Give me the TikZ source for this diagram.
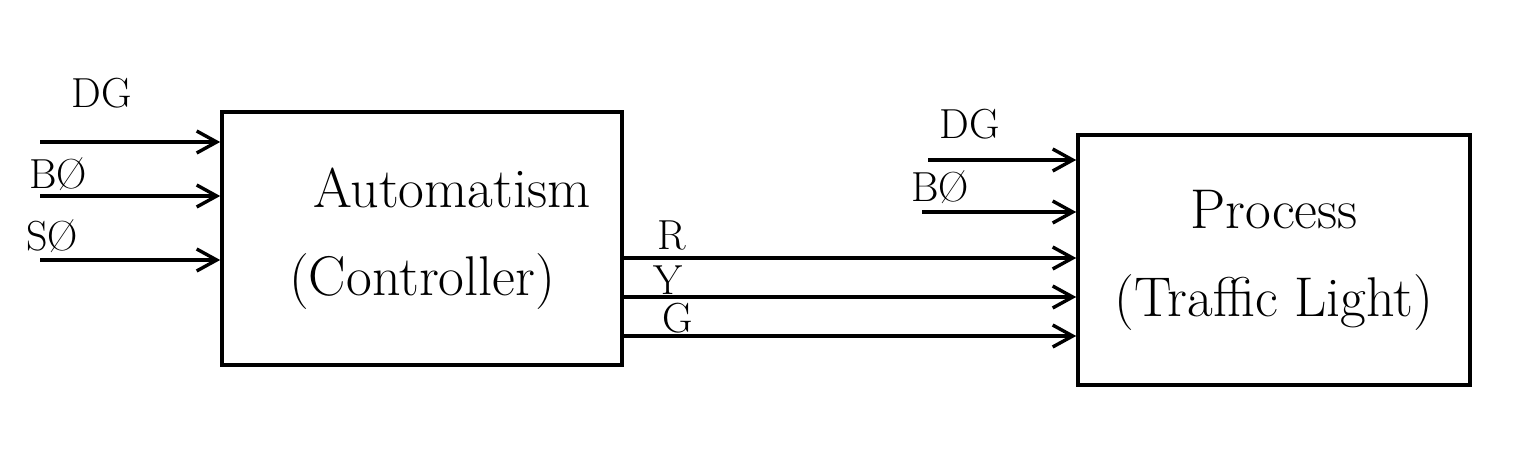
\documentclass[tikz,border=0pt]{standalone}
\usepackage{fontspec}
\usetikzlibrary{arrows.meta}
\begin{document}
\begin{tikzpicture}[x=0.5pt,y=-0.5pt,
  box/.style={draw, line width=1.8pt, align=center, inner sep=0pt, font=\fontsize{28}{32}\selectfont},
  arr/.style={line width=1.7pt, -{Straight Barb[length=10pt,width=11pt,line width=1.7pt]}},
  lbl/.style={font=\fontsize{21}{24}\selectfont, inner sep=1pt}]
\useasboundingbox (0,0) rectangle (1539,449);
\node[box, minimum width=200pt, minimum height=126.5pt] (ctrl) at (422,238.5)
  {\hspace*{30pt}Automatism\\[12pt](Controller)};
\node[box, minimum width=196pt, minimum height=125pt] (proc) at (1274,260)
  {Process\\[12pt](Traffic Light)};
% left inputs
\coordinate (i1) at (40,142);
\coordinate (i2) at (40,196);
\coordinate (i3) at (40,260);
\draw[arr] (i1) -- (i1 -| ctrl.west);
\draw[arr] (i2) -- (i2 -| ctrl.west);
\draw[arr] (i3) -- (i3 -| ctrl.west);
\node[lbl] (lDG) at (102,93) {DG};
\node[lbl] (lBO) at (58,174) {BØ};
\node[lbl] (lSO) at (52,236) {SØ};
% outputs
\coordinate (o1) at (622,258);
\coordinate (o2) at (622,297);
\coordinate (o3) at (622,336);
\draw[arr] (o1) -- (o1 -| proc.west);
\draw[arr] (o2) -- (o2 -| proc.west);
\draw[arr] (o3) -- (o3 -| proc.west);
\node[lbl] (lR) at (672,235) {R};
\node[lbl] (lY) at (668,280) {Y};
\node[lbl] (lG) at (678,318) {G};
% right inputs
\coordinate (p1) at (928,160);
\coordinate (p2) at (922,212);
\draw[arr] (p1) -- (p1 -| proc.west);
\draw[arr] (p2) -- (p2 -| proc.west);
\node[lbl] (rDG) at (970,124) {DG};
\node[lbl] (rBO) at (940,187) {BØ};
\end{tikzpicture}
\end{document}
